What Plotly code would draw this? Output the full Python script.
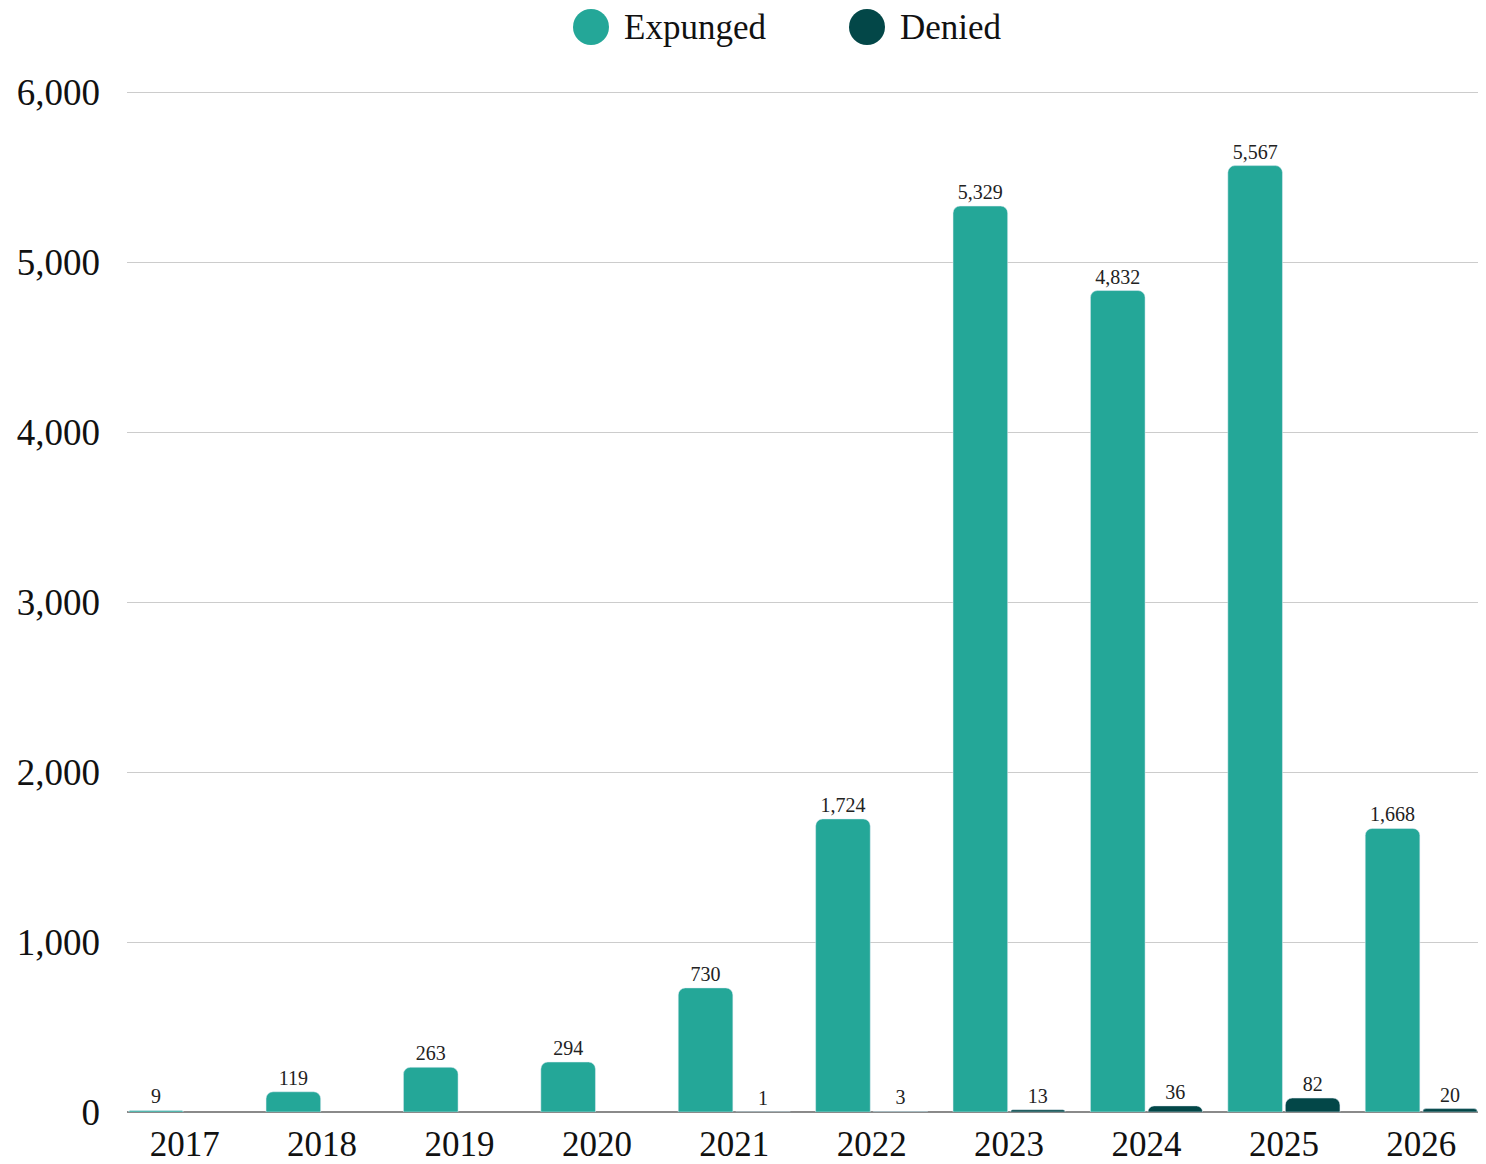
import plotly.graph_objects as go

years = ["2017", "2018", "2019", "2020", "2021", "2022", "2023", "2024", "2025", "2026"]
expunged = [9, 119, 263, 294, 730, 1724, 5329, 4832, 5567, 1668]
denied = [None, None, None, None, 1, 3, 13, 36, 82, 20]
y_ticks = [0, 1000, 2000, 3000, 4000, 5000, 6000]

C_EXP = "#24A798"
C_DEN = "#034748"
FONT = "Liberation Serif"

# page has an 8px body offset
OFF = 8
W, H = 1486 - OFF, 1164 - OFF
ML, MR, MT, MB = 127 - OFF, 7, 79, 52
pw = W - ML - MR
ph = H - MT - MB
# 6000 should sit at page y=92, 0 at page y=1112
y_top = 6000 * ph / 1020.0

fig = go.Figure()
fig.add_trace(go.Bar(
    name="Expunged", x=years, y=expunged, marker=dict(color=C_EXP, cornerradius=7),
    texttemplate="%{y:,}", textposition="outside", cliponaxis=False,
    textfont=dict(family=FONT, size=20, color="#222"), showlegend=False,
))
fig.add_trace(go.Bar(
    name="Denied", x=years, y=denied, marker=dict(color=C_DEN, cornerradius=7),
    texttemplate="%{y:,}", textposition="outside", cliponaxis=False,
    textfont=dict(family=FONT, size=20, color="#222"), showlegend=False,
))

# manual legend with large circular markers (page coordinates converted to paper)
def px(x):
    return (x - OFF - ML) / pw
def py(y):
    return (H - MB - (y - OFF)) / ph

for cx, color, label in [(591, C_EXP, "Expunged"), (867, C_DEN, "Denied")]:
    fig.add_shape(type="circle", xref="paper", yref="paper",
                  x0=px(cx - 18), x1=px(cx + 18), y0=py(45), y1=py(9),
                  fillcolor=color, line=dict(width=0))
    fig.add_annotation(xref="paper", yref="paper", x=px(cx + 32), y=py(28),
                       text=label, showarrow=False, xanchor="left", yanchor="middle",
                       borderpad=0,
                       font=dict(family=FONT, size=35, color="#111"))

fig.update_layout(
    width=W, height=H,
    margin=dict(l=ML, r=MR, t=MT, b=MB),
    plot_bgcolor="white", paper_bgcolor="white",
    barmode="group", bargap=0.163, bargroupgap=0.05,
    font=dict(family=FONT, size=34, color="#111"),
    showlegend=False,
)
fig.update_xaxes(
    type="category", range=[-0.42, 9.42], showgrid=False, showline=False,
    automargin=False,
    ticks="", ticklabelstandoff=8, tickfont=dict(family=FONT, size=35, color="#111"),
)
fig.update_yaxes(
    range=[0, y_top], tickvals=y_ticks, tickformat=",",
    automargin=False,
    showgrid=True, gridcolor="#cccccc", gridwidth=1,
    zeroline=True, zerolinecolor="#8a8a8a", zerolinewidth=1.5,
    ticks="", ticklabelstandoff=26,
    tickfont=dict(family=FONT, size=37, color="#111"),
)

fig.write_html("out.html")
